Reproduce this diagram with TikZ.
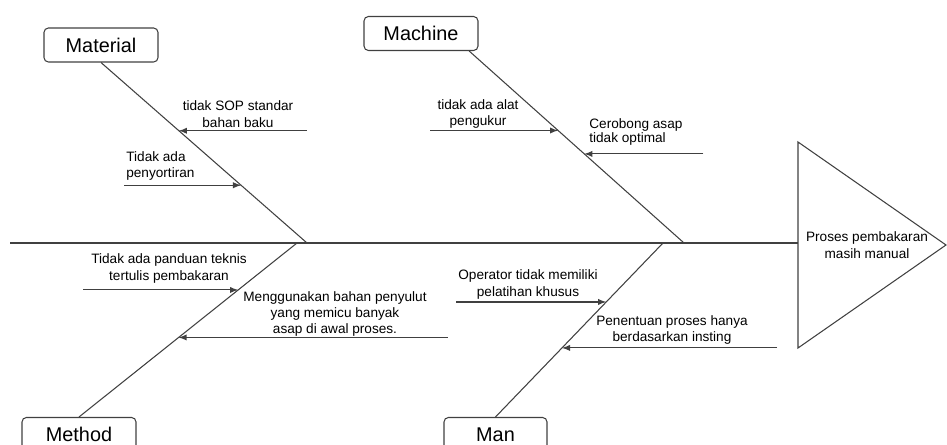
\documentclass[tikz,border=0pt]{standalone}
\usepackage{fontspec}
\setmainfont{Liberation Sans}
\begin{document}
\begin{tikzpicture}[x=0.02cm, y=-0.02cm,
  category/.style={draw=black!75, line width=0.6pt, rounded corners=2.5pt, minimum width=2.28cm, minimum height=0.68cm, inner sep=0pt, font=\fontsize{11.3}{13}\selectfont},
  cause/.style={align=center, inner sep=0pt, font=\fontsize{7.75}{9.3}\selectfont},
  bone/.style={draw=black!75, line width=0.6pt},
  rib/.style={bone, -latex}]
\useasboundingbox (0,0) rectangle (947,445);

% head and spine
\draw [bone] (798,142) -- (946,245) -- (798,348) -- cycle;
\node [cause] (effect) at (867,245) {Proses pembakaran\\masih manual};
\coordinate (tail) at (10,243);
\coordinate (head) at (798,243);
\draw [bone] (tail) -- (head);

% categories
\node [category] (material) at (101,45) {Material};
\node [category] (machine) at (421,33.5) {Machine};
\node [category] (method) at (79,434.5) {Method};
\node [category, minimum width=2.06cm] (man) at (495.5,434.5) {Man};

\coordinate (jmat) at (307,243);
\coordinate (jmac) at (684,243);
\coordinate (jmet) at (297,243);
\coordinate (jman) at (663,243);

\draw [bone] (material.south) -- (jmat) coordinate [pos=0.378] (mat1) coordinate [pos=0.68] (mat2);
\draw [bone] (machine.-20) -- (jmac) coordinate [pos=0.414] (mac1) coordinate [pos=0.536] (mac2);
\draw [bone] (jmet) -- (method.north) coordinate [pos=0.27] (met1) coordinate [pos=0.543] (met2);
\draw [bone] (jman) -- (man.north) coordinate [pos=0.339] (man1) coordinate [pos=0.603] (man2);

% causes
\draw [rib] (mat1) ++(128,0) -- (mat1);
\node [cause] (sop) at (238,114) {tidak SOP standar\\bahan baku};
\draw [rib] (mat2) ++(-117,0) -- (mat2);
\node [cause, anchor=west, align=left] (sortir) at (126,166) {Tidak ada\\penyortiran};

\draw [rib] (mac1) ++(-128,0) -- (mac1);
\node [cause] (alat) at (478,114) {tidak ada alat\\pengukur};
\draw [rib] (mac2) ++(119,0) -- (mac2);
\node [cause, anchor=west, align=left, font=\fontsize{7.75}{8}\selectfont] (cerobong) at (589,132) {Cerobong asap\\tidak optimal};

\draw [rib] (met1) ++(-155,0) -- (met1);
\node [cause] (panduan) at (169,268.5) {Tidak ada panduan teknis\\tertulis pembakaran};
\draw [rib] (met2) ++(269,0) -- (met2);
\node [cause] (penyulut) at (335,314) {Menggunakan bahan penyulut\\yang memicu banyak\\asap di awal proses.};

\draw [rib] (man1) ++(-150,0) -- (man1);
\node [cause] (pelatihan) at (528,284.5) {Operator tidak memiliki\\pelatihan khusus};
\draw [rib] (man2) ++(215,0) -- (man2);
\node [cause] (insting) at (672,330) {Penentuan proses hanya\\berdasarkan insting};
\end{tikzpicture}
\end{document}
